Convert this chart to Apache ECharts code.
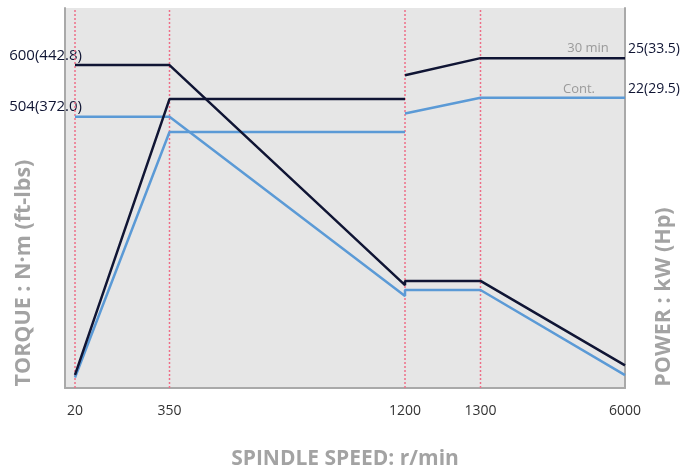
<!DOCTYPE html>
<html>
<head>
<meta charset="utf-8">
<script src="https://cdn.jsdelivr.net/npm/echarts@6/dist/echarts.min.js"></script>
<style>
  html, body { margin: 0; padding: 0; background: #fff; }
  #chart { width: 681px; height: 474px; }
</style>
</head>
<body>
<div id="chart"></div>
<script>
// spindle speed ticks (r/min) and where each sits on the broken x scale
var speedTicks = [20, 350, 1200, 1300, 6000];
var speedAxisPos = [10, 104.5, 340, 415.5, 560];

// torque N·m
var torque30 = [[20, 600], [350, 600], [1200, 191], [1200, 199], [1300, 199], [6000, 42]];
var torqueCont = [[20, 504], [350, 504], [1200, 171], [1200, 182], [1300, 182], [6000, 24]];

// power kW (low / high winding)
var power30Low = [[20, 1.0], [350, 21.9], [1200, 21.9]];
var power30High = [[1200, 23.7], [1300, 25], [6000, 25]];
var powerContLow = [[20, 0.8], [350, 19.4], [1200, 19.4]];
var powerContHigh = [[1200, 20.8], [1300, 22], [6000, 22]];

var torqueLabels = { 600: '600(442.8)', 504: '504(372.0)' };
var powerLabels = { 25: '25(33.5)', 22: '22(29.5)' };

var torqueMax = 706;
var powerMax = 28.8;

function toAxis(speed) {
  for (var i = 0; i < speedTicks.length - 1; i++) {
    if (speed <= speedTicks[i + 1]) {
      var t = (speed - speedTicks[i]) / (speedTicks[i + 1] - speedTicks[i]);
      return speedAxisPos[i] + t * (speedAxisPos[i + 1] - speedAxisPos[i]);
    }
  }
  return speedAxisPos[speedAxisPos.length - 1];
}
function mapData(arr) {
  return arr.map(function (p) { return [toAxis(p[0]), p[1]]; });
}
function speedLabel(v) {
  var best = 0;
  for (var i = 0; i < speedAxisPos.length; i++) {
    if (Math.abs(speedAxisPos[i] - v) < Math.abs(speedAxisPos[best] - v)) best = i;
  }
  return String(speedTicks[best]);
}
function curveName(text, y, dx, dy) {
  return {
    symbol: 'circle', symbolSize: 1, itemStyle: { color: 'rgba(0,0,0,0)' },
    label: {
      show: true, formatter: text, color: '#9a9a9a', fontSize: 13,
      fontFamily: 'Open Sans', position: 'inside', offset: [dx, dy]
    },
    data: [{ coord: [toAxis(6000), y] }]
  };
}

var dark = '#101534';
var blue = '#5b9ad6';
var red = '#ee6f88';
var edge = { show: true, lineStyle: { color: '#a9a9a9', width: 2 } };
function titleStyle(size, shift) {
  return {
    color: '#a3a3a3', fontWeight: 'bold', fontSize: size, fontFamily: 'Open Sans',
    padding: [0, shift, 0, 0]
  };
}

// dotted guides at the speed breakpoints (6000 sits on the right edge)
var guideSeries = speedTicks.slice(0, 4).map(function (s) {
  return {
    type: 'line', yAxisIndex: 0, symbol: 'none', silent: true, z: 1,
    data: [[toAxis(s), 0], [toAxis(s), torqueMax]],
    lineStyle: { color: red, width: 1.5, type: [2, 2] }
  };
});

var chart = echarts.init(document.getElementById('chart'));
var option = {
  animation: false,
  grid: {
    left: 65, right: 56, top: 8, bottom: 86,
    outerBoundsMode: 'none', containLabel: false,
    show: true, backgroundColor: '#e6e6e6', borderWidth: 0
  },
  xAxis: {
    type: 'value', min: 0, max: 560,
    name: 'SPINDLE SPEED: r/min', nameLocation: 'middle', nameGap: 61,
    nameMoveOverlap: false,
    nameTextStyle: titleStyle(21, 0),
    axisLine: edge,
    axisTick: { show: false },
    splitLine: { show: false },
    axisLabel: {
      customValues: speedAxisPos,
      formatter: speedLabel,
      margin: 16, color: '#333', fontSize: 14, fontFamily: 'Open Sans'
    }
  },
  yAxis: [
    {
      type: 'value', min: 0, max: torqueMax, position: 'left',
      name: 'TORQUE : N·m (ft-lbs)', nameLocation: 'middle', nameGap: 30,
      nameMoveOverlap: false,
      nameTextStyle: titleStyle(21.5, 150),
      axisLine: edge,
      axisTick: { show: false },
      splitLine: { show: false },
      axisLabel: {
        customValues: [600, 504],
        formatter: function (v) { return torqueLabels[Math.round(v)] || ''; },
        margin: -17, verticalAlign: 'bottom', padding: [0, 0, 2, 0],
        color: dark, fontSize: 15, fontFamily: 'Open Sans'
      }
    },
    {
      type: 'value', min: 0, max: powerMax, position: 'right',
      name: 'POWER : kW (Hp)', nameLocation: 'middle', nameGap: 28,
      nameMoveOverlap: false,
      nameTextStyle: titleStyle(21.5, 198),
      axisLine: edge,
      axisTick: { show: false },
      splitLine: { show: false },
      axisLabel: {
        customValues: [25, 22],
        formatter: function (v) { return powerLabels[Math.round(v)] || ''; },
        margin: 3, verticalAlign: 'bottom', padding: [0, 0, 2, 0],
        color: dark, fontSize: 14, fontFamily: 'Open Sans'
      }
    }
  ],
  series: guideSeries.concat([
    {
      name: 'Torque Cont.', type: 'line', yAxisIndex: 0, symbol: 'none',
      data: mapData(torqueCont), lineStyle: { color: blue, width: 2.5 }
    },
    {
      name: 'Power Cont. low', type: 'line', yAxisIndex: 1, symbol: 'none',
      data: mapData(powerContLow), lineStyle: { color: blue, width: 2.5 }
    },
    {
      name: 'Power Cont. high', type: 'line', yAxisIndex: 1, symbol: 'none',
      data: mapData(powerContHigh), lineStyle: { color: blue, width: 2.5 },
      markPoint: curveName('Cont.', 22, -46, -8)
    },
    {
      name: 'Torque 30 min', type: 'line', yAxisIndex: 0, symbol: 'none',
      data: mapData(torque30), lineStyle: { color: dark, width: 2.5 }
    },
    {
      name: 'Power 30 min low', type: 'line', yAxisIndex: 1, symbol: 'none',
      data: mapData(power30Low), lineStyle: { color: dark, width: 2.5 }
    },
    {
      name: 'Power 30 min high', type: 'line', yAxisIndex: 1, symbol: 'none',
      data: mapData(power30High), lineStyle: { color: dark, width: 2.5 },
      markPoint: curveName('30 min', 25, -37, -10)
    }
  ])
};
chart.setOption(option);
</script>
</body>
</html>
